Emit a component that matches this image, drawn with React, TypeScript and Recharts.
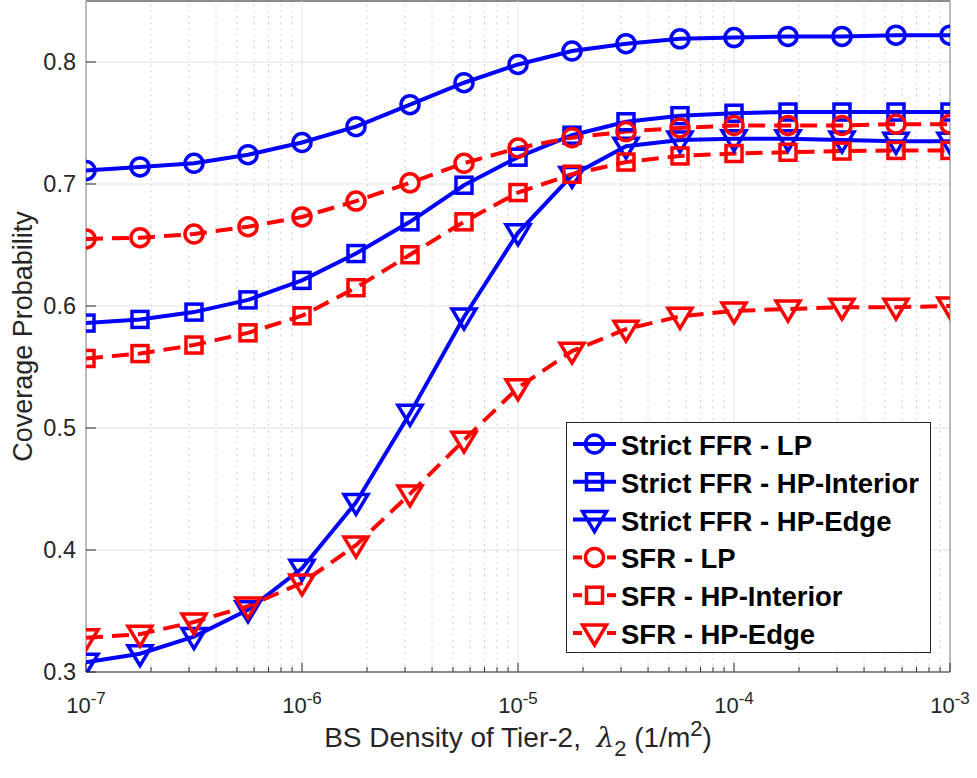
import React from "react";
import {
  LineChart,
  Line,
  XAxis,
  YAxis,
  CartesianGrid,
  ReferenceLine,
  ReferenceArea,
  Legend,
  Label,
} from "recharts";

// BS density of tier-2 (1/m^2), quarter-decade steps
const density = [
  1e-7, 1.778e-7, 3.162e-7, 5.623e-7, 1e-6, 1.778e-6, 3.162e-6, 5.623e-6, 1e-5,
  1.778e-5, 3.162e-5, 5.623e-5, 1e-4, 1.778e-4, 3.162e-4, 5.623e-4, 1e-3,
];

const strictLp = [0.711, 0.714, 0.717, 0.724, 0.734, 0.747, 0.765, 0.783, 0.798, 0.809, 0.815, 0.819, 0.82, 0.821, 0.821, 0.822, 0.822];
const strictInterior = [0.586, 0.589, 0.595, 0.605, 0.621, 0.643, 0.669, 0.699, 0.722, 0.74, 0.751, 0.756, 0.758, 0.759, 0.759, 0.759, 0.759];
const strictEdge = [0.308, 0.315, 0.329, 0.351, 0.385, 0.439, 0.512, 0.591, 0.66, 0.707, 0.731, 0.736, 0.737, 0.737, 0.736, 0.735, 0.735];
const sfrLp = [0.655, 0.656, 0.659, 0.665, 0.673, 0.686, 0.701, 0.717, 0.7295, 0.738, 0.743, 0.746, 0.748, 0.748, 0.748, 0.749, 0.749];
const sfrInterior = [0.557, 0.561, 0.568, 0.578, 0.592, 0.615, 0.642, 0.669, 0.693, 0.708, 0.718, 0.723, 0.725, 0.726, 0.727, 0.7275, 0.7275];
const sfrEdge = [0.328, 0.331, 0.341, 0.354, 0.373, 0.404, 0.446, 0.49, 0.533, 0.563, 0.581, 0.5915, 0.596, 0.5975, 0.599, 0.599, 0.6];

const majorX = [1e-7, 1e-6, 1e-5, 1e-4, 1e-3];
const minorX = [
  2e-7, 3e-7, 4e-7, 5e-7, 6e-7, 7e-7, 8e-7, 9e-7,
  2e-6, 3e-6, 4e-6, 5e-6, 6e-6, 7e-6, 8e-6, 9e-6,
  2e-5, 3e-5, 4e-5, 5e-5, 6e-5, 7e-5, 8e-5, 9e-5,
  2e-4, 3e-4, 4e-4, 5e-4, 6e-4, 7e-4, 8e-4, 9e-4,
];
const yTicks = [0.3, 0.4, 0.5, 0.6, 0.7, 0.8];

const BLUE = "#0000ff";
const RED = "#ff0000";
const AXIS = "#262626";
const FONT = "'Liberation Sans', Arial, Helvetica, sans-serif";

const series = [
  { key: "strictLp", name: "Strict FFR - LP", color: BLUE, marker: "circle", dashed: false },
  { key: "strictInterior", name: "Strict FFR - HP-Interior", color: BLUE, marker: "square", dashed: false },
  { key: "strictEdge", name: "Strict FFR - HP-Edge", color: BLUE, marker: "triangle", dashed: false },
  { key: "sfrLp", name: "SFR - LP", color: RED, marker: "circle", dashed: true },
  { key: "sfrInterior", name: "SFR - HP-Interior", color: RED, marker: "square", dashed: true },
  { key: "sfrEdge", name: "SFR - HP-Edge", color: RED, marker: "triangle", dashed: true },
];

const data = density.map((x, i) => ({
  x,
  strictLp: strictLp[i],
  strictInterior: strictInterior[i],
  strictEdge: strictEdge[i],
  sfrLp: sfrLp[i],
  sfrInterior: sfrInterior[i],
  sfrEdge: sfrEdge[i],
}));

const allXTicks = [...majorX, ...minorX].sort((a, b) => a - b);

const isMajor = (v: number) => {
  const l = Math.log10(v);
  return Math.abs(l - Math.round(l)) < 1e-6;
};

function Marker({ kind, cx, cy, color }: any) {
  if (cx == null || cy == null) return null;
  if (kind === "circle")
    return <circle cx={cx} cy={cy} r={9} fill="none" stroke={color} strokeWidth={3.5} />;
  if (kind === "square")
    return <rect x={cx - 8} y={cy - 8} width={16} height={16} fill="none" stroke={color} strokeWidth={3.5} />;
  return (
    <path
      d={`M${cx - 12},${cy - 8}L${cx + 12},${cy - 8}L${cx},${cy + 12}Z`}
      fill="none"
      stroke={color}
      strokeWidth={3.5}
      strokeLinejoin="miter"
    />
  );
}

function BottomTick({ x, y, payload }: any) {
  const major = isMajor(payload.value);
  const exp = Math.round(Math.log10(payload.value));
  return (
    <g>
      <line x1={x} x2={x} y1={y} y2={y - (major ? 9 : 5)} stroke={AXIS} strokeWidth={1} />
      {major && (
        <text x={x} y={y + 41} textAnchor="middle" fontFamily={FONT} fontSize={22} fill={AXIS}>
          10
          <tspan dy={-9} fontSize={17}>{`-${-exp}`}</tspan>
        </text>
      )}
    </g>
  );
}

function TopTick({ x, y, payload }: any) {
  const major = isMajor(payload.value);
  return <line x1={x} x2={x} y1={y} y2={y + (major ? 9 : 5)} stroke={AXIS} strokeWidth={1} />;
}

function LeftTick({ x, y, payload }: any) {
  return (
    <g>
      <line x1={x} x2={x + 10} y1={y} y2={y} stroke={AXIS} strokeWidth={1} />
      <text x={x - 10} y={y + 8} textAnchor="end" fontFamily={FONT} fontSize={23.5} fill={AXIS}>
        {payload.value.toFixed(1)}
      </text>
    </g>
  );
}

function RightTick({ x, y }: any) {
  return <line x1={x} x2={x - 10} y1={y} y2={y} stroke={AXIS} strokeWidth={1} />;
}

function YLabel({ viewBox }: any) {
  const cx = 32;
  const cy = viewBox.y + viewBox.height / 2;
  return (
    <text
      x={cx}
      y={cy}
      transform={`rotate(-90, ${cx}, ${cy})`}
      textAnchor="middle"
      fontFamily={FONT}
      fontSize={27}
      fill={AXIS}
    >
      Coverage Probability
    </text>
  );
}

function XLabel({ viewBox }: any) {
  const cx = viewBox.x + viewBox.width / 2;
  const y = viewBox.y + 75;
  return (
    <text x={cx} y={y} textAnchor="middle" fontFamily={FONT} fontSize={28} fill={AXIS}>
      {"BS Density of Tier-2,\u00a0\u00a0"}
      <tspan fontStyle="italic" fontFamily="'DejaVu Serif', serif">λ</tspan>
      <tspan dy={9} fontSize={22}>2</tspan>
      <tspan dy={-9}>{" (1/m"}</tspan>
      <tspan dy={-11} fontSize={22}>2</tspan>
      <tspan dy={11}>)</tspan>
    </text>
  );
}

function LegendBox() {
  return (
    <svg width={366} height={232} style={{ display: "block" }}>
      <rect x={0.5} y={0.5} width={364} height={230} fill="#ffffff" stroke={AXIS} strokeWidth={1} />
      {series.map((s, i) => {
        const cy = 22 + i * 37.8;
        return (
          <g key={s.key}>
            {s.dashed ? (
              <>
                <line x1={7} x2={16} y1={cy} y2={cy} stroke={s.color} strokeWidth={4} />
                <line x1={41} x2={50} y1={cy} y2={cy} stroke={s.color} strokeWidth={4} />
              </>
            ) : (
              <line x1={7} x2={50} y1={cy} y2={cy} stroke={s.color} strokeWidth={4} />
            )}
            <Marker kind={s.marker} cx={28.5} cy={cy} color={s.color} />
            <text x={55} y={cy + 11} fontFamily={FONT} fontSize={27.5} fontWeight="bold" fill="#000000">
              {s.name}
            </text>
          </g>
        );
      })}
    </svg>
  );
}

export default function App() {
  return (
    <div style={{ width: 977, height: 778, background: "#ffffff" }}>
      <style>{"body{margin:0;background:#ffffff}"}</style>
      <LineChart width={977} height={778} data={data} margin={{ top: 1, right: 27, bottom: 0, left: 0 }}>
        <CartesianGrid vertical={false} stroke="#e3e3e3" strokeWidth={1} />
        {minorX.map((v) => (
          <ReferenceLine key={`m${v}`} x={v} stroke="#c4c4c4" strokeWidth={1} strokeDasharray="1.5 4.5" />
        ))}
        {majorX.map((v) => (
          <ReferenceLine key={`M${v}`} x={v} stroke="#e3e3e3" strokeWidth={1} />
        ))}
        <ReferenceArea x1={1e-7} x2={1e-3} y1={0.3} y2={0.85} fill="none" stroke={AXIS} strokeWidth={1} />
        <XAxis
          dataKey="x"
          type="number"
          scale="log"
          domain={[1e-7, 1e-3]}
          ticks={allXTicks}
          interval={0}
          tickSize={0}
          tickMargin={0}
          tickLine={false}
          axisLine={false}
          height={106}
          tick={(p: any) => <BottomTick {...p} />}
          allowDataOverflow
        >
          <Label content={(p: any) => <XLabel {...p} />} />
        </XAxis>
        <XAxis
          xAxisId="top"
          orientation="top"
          dataKey="x"
          type="number"
          scale="log"
          domain={[1e-7, 1e-3]}
          ticks={allXTicks}
          interval={0}
          tickSize={0}
          tickMargin={0}
          tickLine={false}
          axisLine={false}
          height={0}
          tick={(p: any) => <TopTick {...p} />}
          allowDataOverflow
        />
        <YAxis
          type="number"
          domain={[0.3, 0.85]}
          ticks={yTicks}
          interval={0}
          width={86}
          tickSize={0}
          tickMargin={0}
          tickLine={false}
          axisLine={false}
          tick={(p: any) => <LeftTick {...p} />}
          allowDataOverflow
        >
          <Label content={(p: any) => <YLabel {...p} />} />
        </YAxis>
        <YAxis
          yAxisId="right"
          orientation="right"
          type="number"
          domain={[0.3, 0.85]}
          ticks={yTicks}
          interval={0}
          width={0}
          tickSize={0}
          tickMargin={0}
          tickLine={false}
          axisLine={false}
          tick={(p: any) => <RightTick {...p} />}
          allowDataOverflow
        />
        {series.map((s) => (
          <Line
            key={s.key}
            dataKey={s.key}
            name={s.name}
            type="linear"
            stroke={s.color}
            strokeWidth={4}
            strokeDasharray={s.dashed ? "17 9" : undefined}
            dot={(p: any) => <Marker key={`${s.key}-${p.index}`} kind={s.marker} cx={p.cx} cy={p.cy} color={s.color} />}
            activeDot={false}
            isAnimationActive={false}
          />
        ))}
        <Legend
          layout="horizontal"
          verticalAlign="middle"
          align="center"
          wrapperStyle={{ left: 566, top: 422, width: 366, height: 232 }}
          content={() => <LegendBox />}
        />
      </LineChart>
    </div>
  );
}
